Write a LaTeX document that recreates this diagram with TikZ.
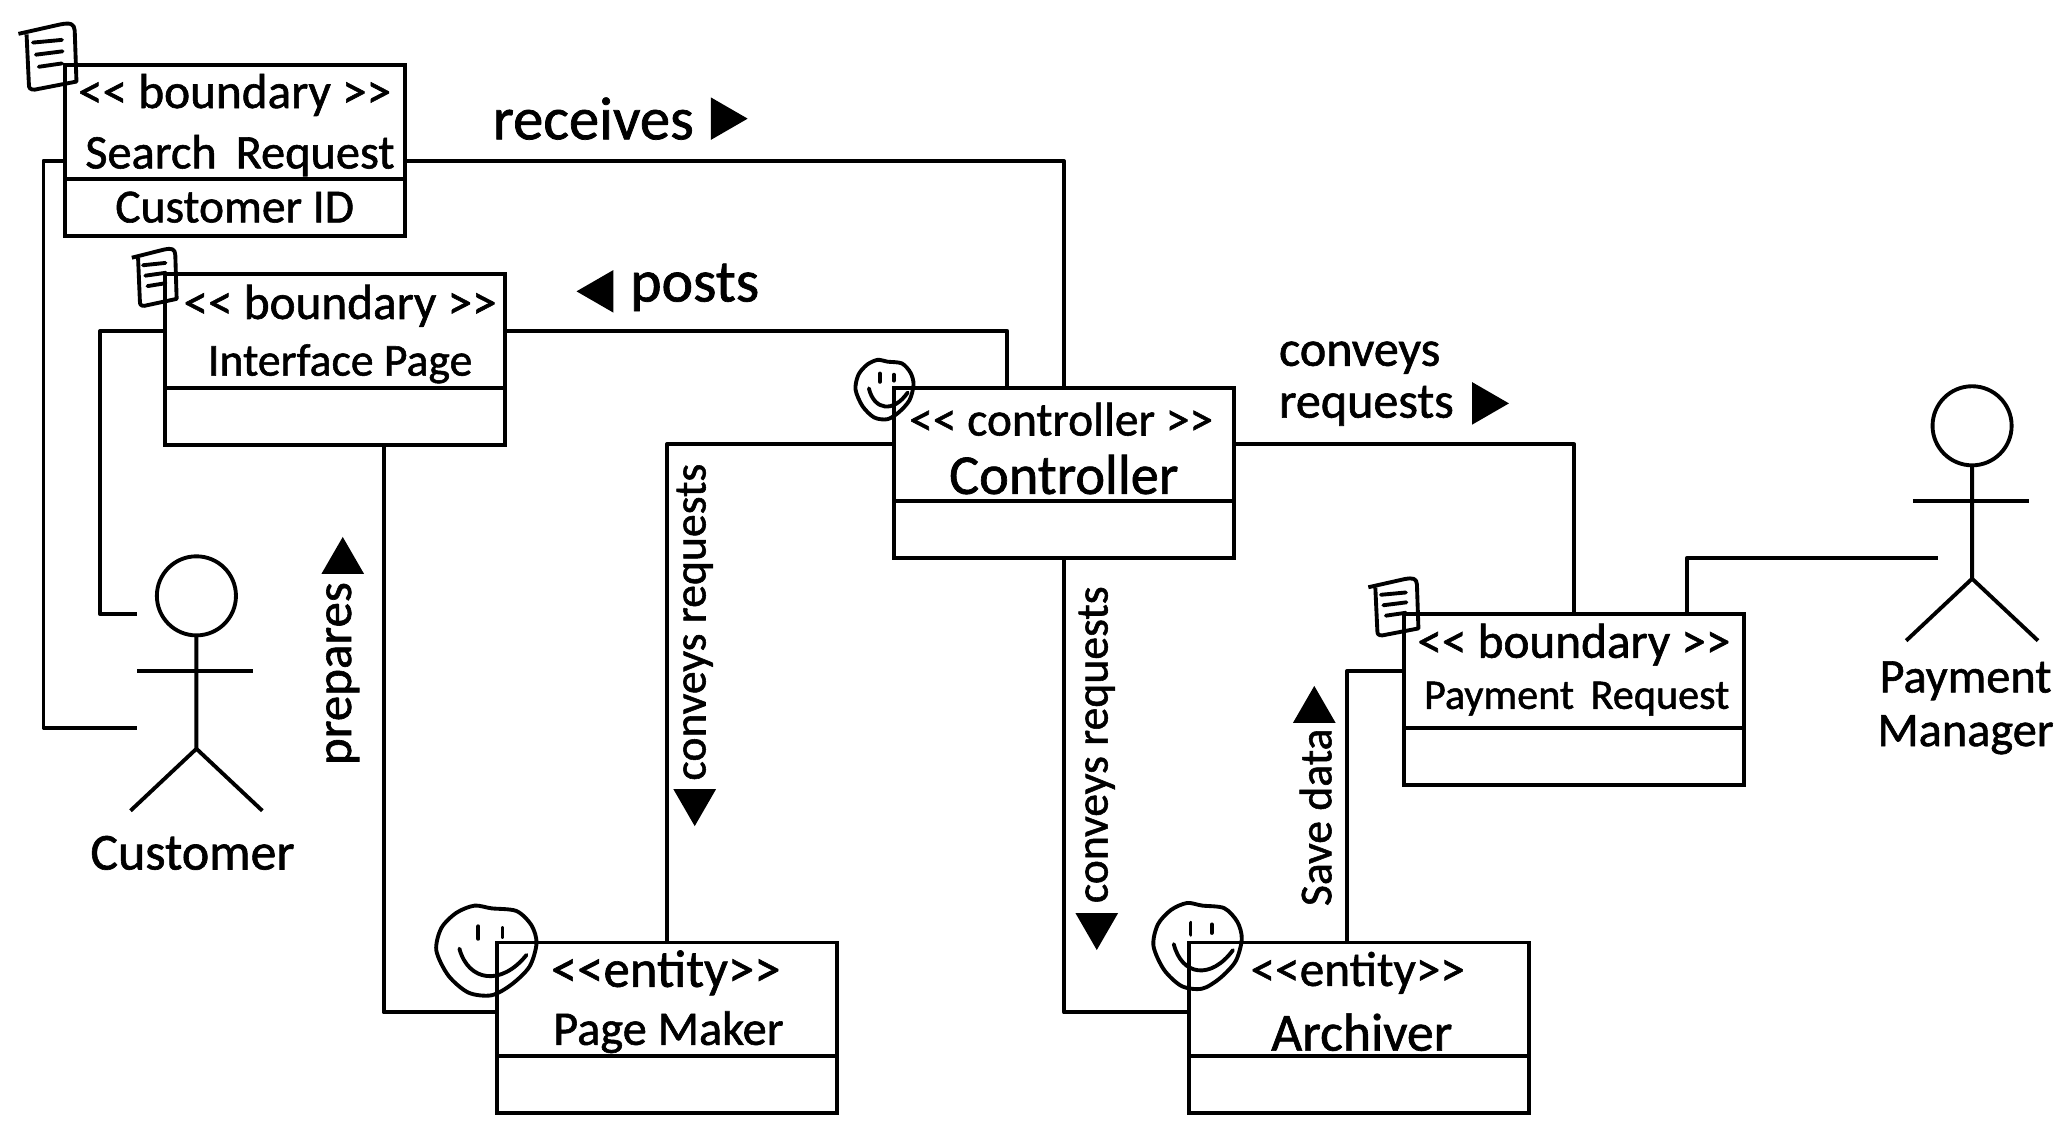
\documentclass[tikz,border=0pt]{standalone}
\usepackage{fontspec}
\usetikzlibrary{positioning, shapes.geometric}

\newfontfamily\handfont[FakeBold=1.2]{Carlito}
\newcommand{\hand}[1]{\handfont\fontsize{#1}{#1}\selectfont}

\tikzset{
	umlline/.style = {line width = 2.2pt, line join = round},
	classhead/.style = {draw, line width = 2.2pt, minimum width = 193.5pt, minimum height = 64.5pt, inner sep = 0pt, outer sep = 0pt},
	classbody/.style = {draw, line width = 2.2pt, minimum width = 193.5pt, minimum height = 32.5pt, inner sep = 0pt, outer sep = 0pt, font = \hand{27}},
	stereotext/.style = {inner sep = 0pt, font = \hand{28}},
	nametext/.style = {inner sep = 0pt, font = \hand{27}},
	flowtext/.style = {inner sep = 0pt, font = \hand{26}},
	actorhead/.style = {draw, circle, line width = 2.2pt, minimum size = 45pt, inner sep = 0pt, outer sep = 0pt},
	arrowmark/.style = {regular polygon, regular polygon sides = 3, shape border rotate = #1, fill = black, minimum size = 28pt, inner sep = 0pt},
	pics/noteicon/.style = {code = {
		\draw [umlline] (0,.17) -- (.72,.03) .. controls (.9,0) and (.96,.02) .. (.97,.12) -- (1,.88) -- (.28,1) .. controls (.2,1) and (.18,.98) .. (.18,.92) -- (.14,.18);
		\draw [umlline, line cap = round] (.25,.3) -- (.75,.26);
		\draw [umlline, line cap = round] (.3,.48) -- (.76,.43);
		\draw [umlline, line cap = round] (.35,.66) -- (.75,.61);
	}},
	pics/smileicon/.style = {code = {
		\draw [umlline] plot [smooth cycle] coordinates {(.55,.03) (.8,.06) (.95,.22) (1,.42) (.93,.68) (.75,.88) (.55,1) (.32,.97) (.12,.78) (0,.5) (.05,.25) (.2,.08) (.38,0)};
		\draw [umlline, line cap = round] (.42,.23) -- (.42,.37);
		\draw [umlline, line cap = round] (.66,.25) -- (.66,.35);
		\draw [umlline, line cap = round] (.23,.48) .. controls (.32,.85) and (.65,.9) .. (.9,.55);
	}}
}

\begin{document}
\begin{tikzpicture}[x=0.75pt, y=-0.75pt]
	\useasboundingbox (0,0) rectangle (1568,862.5);

	% class boxes
	\begin{scope}
		\node [classhead] (searchhead) at (178,92.5) {};
		\node [classbody, below=0pt of searchhead] (searchbody) {Customer ID};
		\node [classhead] (interfacehead) at (254,251) {};
		\node [classbody, below=0pt of interfacehead] (interfacebody) {};
		\node [classhead] (controllerhead) at (807,337) {};
		\node [classbody, below=0pt of controllerhead] (controllerbody) {};
		\node [classhead] (paymenthead) at (1194,509) {};
		\node [classbody, below=0pt of paymenthead] (paymentbody) {};
		\node [classhead] (pagemakerhead) at (506,758) {};
		\node [classbody, below=0pt of pagemakerhead] (pagemakerbody) {};
		\node [classhead] (archiverhead) at (1031,758) {};
		\node [classbody, below=0pt of archiverhead] (archiverbody) {};
	\end{scope}

	% box titles
	\begin{scope}
		\node [stereotext] (searchtype) at (178,72) {<< boundary >>};
		\node [nametext, font=\hand{27.5}] (searchname) at (182,118) {Search\, Request};
		\node [stereotext] (interfacetype) at (258,232) {<< boundary >>};
		\node [nametext, font=\hand{26}] (interfacename) at (258,276) {Interface Page};
		\node [stereotext, font=\hand{27}] (controllertype) at (805,318) {<< controller >>};
		\node [nametext, font=\hand{32}] (controllername) at (807,360) {Controller};
		\node [stereotext] (paymenttype) at (1194,489) {<< boundary >>};
		\node [nametext, font=\hand{24}] (paymentname) at (1196,530) {Payment\, Request};
		\node [stereotext, font=\hand{30}] (pagemakertype) at (505,738) {<<entity>>};
		\node [nametext, font=\hand{27.5}] (pagemakername) at (507,783) {Page Maker};
		\node [stereotext] (archivertype) at (1030,738) {<<entity>>};
		\node [nametext, font=\hand{30.5}] (archivername) at (1033,783) {Archiver};
	\end{scope}

	% actors
	\node [actorhead] (customer) at (149,452) {};
	\node [actorhead] (manager) at (1496,323) {};
	\foreach \a in {customer, manager} {
		\draw [umlline] (\a.south) -- ++(0,86) -- ++(-50,47);
		\draw [umlline] (\a.south) ++(0,86) -- ++(50,47);
		\draw [umlline] (\a.south) ++(-45,27) -- ++(88,0);
	}
	\node [nametext, font=\hand{29.5}] (customername) at (146,647) {Customer};
	\node [nametext, font=\hand{27.5}, align=center] (managername) at (1491,537) {Payment\\[3pt]Manager};

	% icons
	\pic [xscale=44, yscale=51] at (14,17) {noteicon};
	\pic [xscale=34, yscale=44] at (100,188) {noteicon};
	\pic [xscale=38, yscale=44] at (1038,438) {noteicon};
	\pic [xscale=44, yscale=45] at (649,273) {smileicon};
	\pic [xscale=76, yscale=68] at (331,687) {smileicon};
	\pic [xscale=67, yscale=65] at (875,685) {smileicon};

	% connectors
	\coordinate (recvbend) at (807,122);
	\coordinate (searchbendA) at (33,122);
	\coordinate (searchbendB) at (33,552);
	\coordinate (customerA) at (104,552);
	\coordinate (interfacebendA) at (76,251);
	\coordinate (interfacebendB) at (76,466);
	\coordinate (customerB) at (104,466);
	\coordinate (postbend) at (764,251);
	\coordinate (prepbendA) at (291,337);
	\coordinate (prepbendB) at (291,768);
	\coordinate (makerbend) at (506,337);
	\coordinate (archbend) at (807,768);
	\coordinate (paybend) at (1194,337);
	\coordinate (mgrbendA) at (1280,466);
	\coordinate (mgrbendB) at (1280,423);
	\coordinate (managerA) at (1470,423);
	\coordinate (savebendA) at (1022,509);
	\coordinate (savebendB) at (1022,715);

	\begin{scope}[umlline]
		\draw (searchhead.east |- recvbend) -- (recvbend) -- (controllerhead.north -| recvbend);
		\draw (searchhead.west |- searchbendA) -- (searchbendA) -- (searchbendB) -- (customerA);
		\draw (interfacehead.west |- interfacebendA) -- (interfacebendA) -- (interfacebendB) -- (customerB);
		\draw (interfacehead.east |- postbend) -- (postbend) -- (controllerhead.north -| postbend);
		\draw (interfacebody.south -| prepbendA) -- (prepbendB) -- (pagemakerhead.west |- prepbendB);
		\draw (controllerhead.west |- makerbend) -- (makerbend) -- (pagemakerhead.north -| makerbend);
		\draw (controllerbody.south -| archbend) -- (archbend) -- (archiverhead.west |- archbend);
		\draw (controllerhead.east |- paybend) -- (paybend) -- (paymenthead.north -| paybend);
		\draw (paymenthead.north -| mgrbendA) -- (mgrbendB) -- (managerA);
		\draw (paymenthead.west |- savebendA) -- (savebendA) -- (archiverhead.north -| savebendA);
	\end{scope}

	% flow labels
	\node [flowtext, font=\hand{34.5}] (receivestext) at (450,90) {receives};
	\node [arrowmark=-90] (receivesmark) at (548.5,90) {};
	\node [flowtext, font=\hand{34}] (poststext) at (527,218) {posts};
	\node [arrowmark=90] (postsmark) at (456,221) {};
	\node [flowtext, font=\hand{28.5}, align=left, anchor=west] (conveystext) at (970,291) {conveys\\[1pt]requests};
	\node [arrowmark=-90] (conveysmark) at (1126,306) {};
	\node [flowtext, font=\hand{29}, rotate=90] (preparestext) at (260,511) {prepares};
	\node [arrowmark=0] (preparesmark) at (260,426) {};
	\node [flowtext, rotate=90] (makertext) at (527,472) {conveys requests};
	\node [arrowmark=180] (makermark) at (527,608) {};
	\node [flowtext, rotate=90] (archtext) at (832,565) {conveys requests};
	\node [arrowmark=180] (archmark) at (832,702) {};
	\node [flowtext, rotate=90] (savetext) at (998,620) {Save data};
	\node [arrowmark=0] (savemark) at (997,539) {};
\end{tikzpicture}
\end{document}
